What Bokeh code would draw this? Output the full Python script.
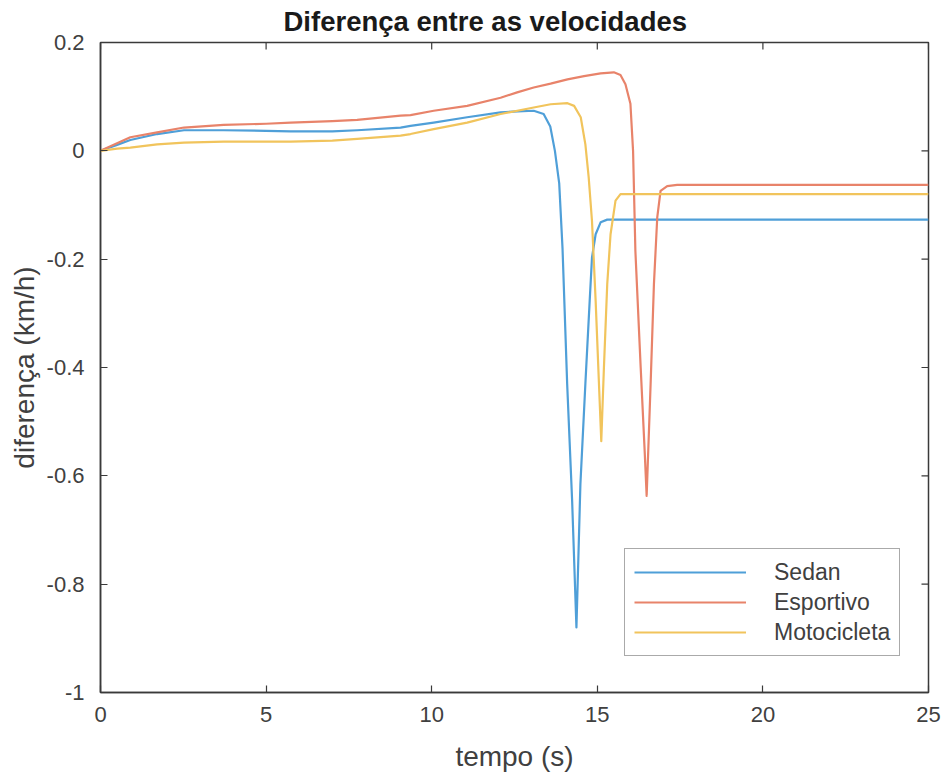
import math
from bokeh.plotting import figure
from bokeh.models import FixedTicker, Legend, LegendItem, Range1d
from bokeh.embed import file_html
from bokeh.resources import INLINE

# ---------------- data ----------------
sedan_t = [0, 0.5, 0.9, 1.71, 2.52, 3.72, 5.0, 5.74, 7.0, 7.75, 9.06, 9.36, 10.06, 11.07, 12.08,
           12.6, 13.08, 13.38, 13.58, 13.72, 13.85, 13.95, 14.09, 14.24, 14.37, 14.49, 14.64,
           14.77, 14.84, 14.95, 15.1, 15.3, 16.0, 20.0, 25.0]
sedan_v = [0, 0.011, 0.020, 0.031, 0.038, 0.038, 0.037, 0.036, 0.036, 0.038, 0.043, 0.046, 0.052,
           0.062, 0.071, 0.073, 0.074, 0.068, 0.045, 0.0, -0.06, -0.18, -0.43, -0.646, -0.88,
           -0.615, -0.43, -0.277, -0.197, -0.154, -0.132, -0.127, -0.127, -0.127, -0.127]

esportivo_t = [0, 0.5, 0.9, 1.71, 2.52, 3.72, 5.0, 5.74, 7.0, 7.75, 9.06, 9.36, 10.06, 11.07, 12.08,
               12.58, 13.08, 13.59, 14.1, 14.6, 15.1, 15.5, 15.7, 15.85, 16.0, 16.08, 16.15, 16.31,
               16.43, 16.49, 16.61, 16.71, 16.81, 16.91, 17.11, 17.41, 20.0, 25.0]
esportivo_v = [0, 0.014, 0.025, 0.034, 0.043, 0.048, 0.050, 0.052, 0.055, 0.057, 0.065, 0.066, 0.074,
               0.083, 0.098, 0.108, 0.117, 0.124, 0.132, 0.138, 0.143, 0.145, 0.140, 0.123, 0.087,
               0.0, -0.185, -0.40, -0.554, -0.637, -0.43, -0.246, -0.123, -0.074, -0.065, -0.063,
               -0.063, -0.063]

moto_t = [0, 0.5, 0.9, 1.71, 2.52, 3.72, 5.0, 5.74, 7.0, 7.75, 9.06, 9.36, 10.06, 11.07, 12.08,
          13.08, 13.59, 14.1, 14.3, 14.5, 14.64, 14.74, 14.84, 14.95, 15.05, 15.12, 15.2, 15.3,
          15.4, 15.55, 15.7, 16.0, 20.0, 25.0]
moto_v = [0, 0.004, 0.006, 0.012, 0.015, 0.017, 0.017, 0.017, 0.019, 0.022, 0.028, 0.031, 0.040,
          0.052, 0.068, 0.080, 0.086, 0.088, 0.083, 0.062, 0.012, -0.049, -0.13, -0.277, -0.43,
          -0.536, -0.40, -0.246, -0.154, -0.092, -0.080, -0.080, -0.080, -0.080]

series_names = ["Sedan", "Esportivo", "Motocicleta"]
series_colors = ["#4f9fd8", "#e8836a", "#f1c45c"]

x_ticks = [0, 5, 10, 15, 20, 25]
y_ticks = [-1, -0.8, -0.6, -0.4, -0.2, 0, 0.2]
y_tick_labels = ["-1", "-0.8", "-0.6", "-0.4", "-0.2", "0", "0.2"]

title_text = "Diferença entre as velocidades"
x_label = "tempo (s)"
y_label = "diferença (km/h)"

# ---------------- figure ----------------
FONT = "Liberation Sans"
AX_COLOR = "#3a3a3a"
x_lo, x_hi = x_ticks[0], x_ticks[-1]
y_lo, y_hi = y_ticks[0], y_ticks[-1]

p = figure(frame_width=828, frame_height=650,
           x_range=Range1d(x_lo, x_hi), y_range=Range1d(y_lo, y_hi),
           output_backend="svg", toolbar_location=None,
           min_border_left=100, min_border_right=16, min_border_top=42, min_border_bottom=86,
           title=title_text)
p.background_fill_color = "white"
p.border_fill_color = "white"
p.outline_line_color = AX_COLOR
p.outline_line_width = 1.5
p.xgrid.visible = False
p.ygrid.visible = False

p.title.align = "left"
p.title.offset = 183
p.title.vertical_align = "top"
p.title.text_font = FONT
p.title.text_font_size = "27.5px"
p.title.text_font_style = "bold"
p.title.text_color = "#1a1a1a"
p.title.standoff = 8

renderers = []
for t, v, c in [(sedan_t, sedan_v, series_colors[0]),
                (esportivo_t, esportivo_v, series_colors[1]),
                (moto_t, moto_v, series_colors[2])]:
    r = p.line(t, v, line_color=c, line_width=2.2, line_join="round")
    renderers.append(r)

# inward ticks on the top and right edges of the box (clipped to the frame)
p.scatter(x=x_ticks, y=[y_hi] * len(x_ticks), marker="dash", size=14, angle=math.pi / 2,
          line_color=AX_COLOR, line_width=1.2)
p.scatter(x=[x_hi] * len(y_ticks), y=y_ticks, marker="dash", size=14,
          line_color=AX_COLOR, line_width=1.2)

def style_axis(ax):
    ax.axis_line_color = AX_COLOR
    ax.axis_line_width = 1.5
    ax.major_tick_line_color = AX_COLOR
    ax.major_tick_line_width = 1.2
    ax.major_tick_in = 7
    ax.major_tick_out = 0
    ax.minor_tick_in = 0
    ax.minor_tick_out = 0
    ax.major_label_text_font = FONT
    ax.major_label_text_color = "#404040"
    ax.major_label_text_font_size = "22px"
    ax.axis_label_text_font = FONT
    ax.axis_label_text_font_size = "28px"
    ax.axis_label_text_font_style = "normal"
    ax.axis_label_text_color = "#404040"

xa = p.xaxis[0]
ya = p.yaxis[0]
xa.ticker = FixedTicker(ticks=x_ticks)
ya.ticker = FixedTicker(ticks=y_ticks)
ya.major_label_overrides = {k: s for k, s in zip(y_ticks, y_tick_labels)}
xa.axis_label = x_label
ya.axis_label = y_label
style_axis(xa)
style_axis(ya)
xa.major_label_standoff = 14
xa.axis_label_standoff = 16
ya.major_label_standoff = 16
ya.axis_label_standoff = 4

legend = Legend(items=[LegendItem(label=n, renderers=[r]) for n, r in zip(series_names, renderers)],
                location=(524, 36))
legend.label_text_font = FONT
legend.label_text_font_size = "23px"
legend.label_text_color = "#404040"
legend.glyph_width = 112
legend.glyph_height = 28
legend.label_height = 28
legend.label_standoff = 28
legend.spacing = 2
legend.padding = 9
legend.margin = 0
legend.border_line_color = "#555555"
legend.border_line_width = 1.5
legend.background_fill_alpha = 1.0
p.add_layout(legend, "center")

open("out.html", "w").write(file_html(p, INLINE))
